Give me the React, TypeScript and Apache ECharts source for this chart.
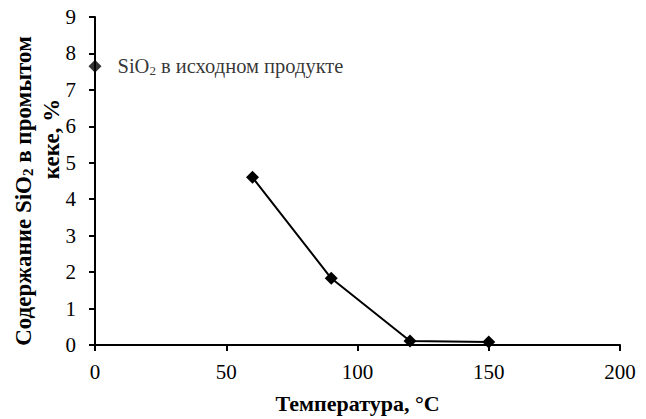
import React, { useEffect, useRef } from "react";
import * as echarts from "echarts";

const temperatures = [60, 90, 120, 150];
const sio2Values = [4.6, 1.83, 0.11, 0.08];
const initialPoint = [0, 7.65];
const initialLabel = "{n|SiO}{sub|2}{n| в исходном продукте}";
const xTitle = "Температура, °C";
const yTitleLine1 = "{b|Содержание SiO}{bs|2}{b| в промытом}";
const yTitleLine2 = "{b|кеке, %}";

export default function App() {
  const ref = useRef<HTMLDivElement>(null);
  useEffect(() => {
    const chart = echarts.init(ref.current!, null, { renderer: "svg" });
    const font = "Liberation Serif";
    const richTitle = {
      b: { fontSize: 23, fontWeight: "bold", fontFamily: font, color: "#000" },
      bs: { fontSize: 15, fontWeight: "bold", fontFamily: font, color: "#000", padding: [10, 0, 0, 0] },
    };
    chart.setOption({
      animation: false,
      textStyle: { fontFamily: font },
      grid: { left: 95, right: 26, top: 17, bottom: 73 },
      graphic: [
        {
          type: "text",
          x: 23,
          y: 191,
          rotation: Math.PI / 2,
          style: { text: yTitleLine1, rich: richTitle, align: "center", verticalAlign: "middle", fill: "#000" },
        },
        {
          type: "text",
          x: 51,
          y: 139,
          rotation: Math.PI / 2,
          style: { text: yTitleLine2, rich: richTitle, align: "center", verticalAlign: "middle", fill: "#000" },
        },
      ],
      xAxis: {
        type: "value",
        min: 0,
        max: 200,
        interval: 50,
        splitLine: { show: false },
        axisLine: { show: true, lineStyle: { color: "#000", width: 2 } },
        axisTick: { show: true, inside: false, length: 6, lineStyle: { color: "#000", width: 2 } },
        axisLabel: { color: "#000", fontSize: 21, fontFamily: font, margin: 16 },
        name: xTitle,
        nameLocation: "middle",
        nameGap: 47,
        nameTextStyle: { color: "#000", fontSize: 22, fontWeight: "bold", fontFamily: font },
      },
      yAxis: {
        type: "value",
        min: 0,
        max: 9,
        interval: 1,
        splitLine: { show: false },
        axisLine: { show: true, onZero: false, lineStyle: { color: "#000", width: 2 } },
        axisTick: { show: true, inside: false, length: 6, lineStyle: { color: "#000", width: 2 } },
        axisLabel: { color: "#000", fontSize: 21, fontFamily: font, margin: 19 },
      },
      series: [
        {
          type: "line",
          data: temperatures.map((t, i) => [t, sio2Values[i]]),
          symbol: "diamond",
          symbolSize: 13,
          itemStyle: { color: "#000" },
          lineStyle: { color: "#000", width: 2 },
        },
        {
          type: "scatter",
          data: [initialPoint],
          symbol: "diamond",
          symbolSize: 13,
          itemStyle: { color: "#000" },
          label: {
            show: true,
            position: "right",
            distance: 16,
            formatter: initialLabel,
            rich: {
              n: { fontSize: 20.5, fontFamily: font, color: "#000" },
              sub: { fontSize: 13, fontFamily: font, color: "#000", padding: [9, 0, 0, 0] },
            },
          },
        },
      ],
    });
    return () => chart.dispose();
  }, []);
  return (
    <div
      ref={ref}
      style={{ position: "fixed", left: 0, top: 0, width: 646, height: 419, background: "#fff" }}
    />
  );
}
